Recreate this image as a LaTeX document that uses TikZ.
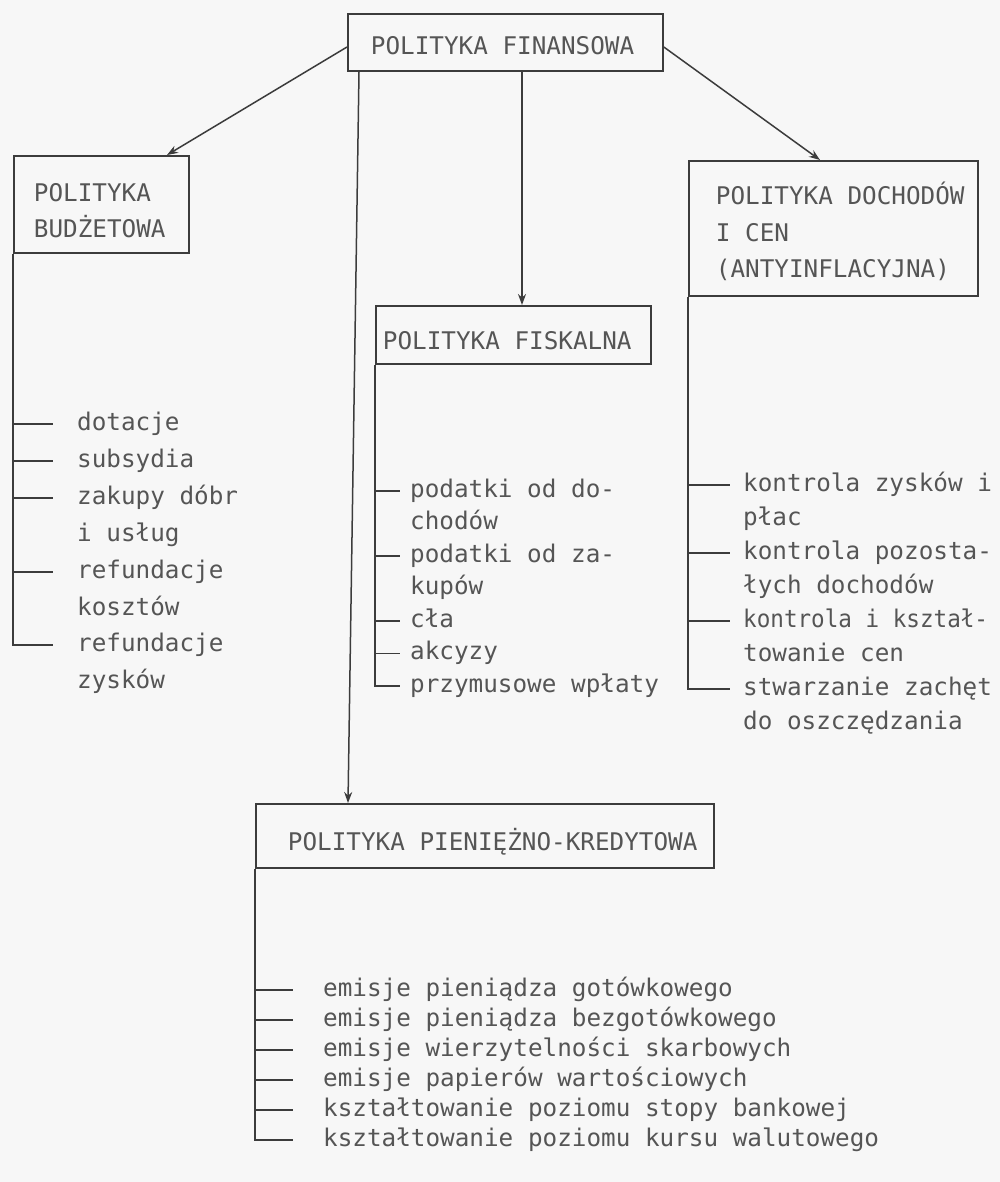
\documentclass[tikz,border=0pt]{standalone}
\usepackage{fontspec}
\newfontfamily\mono[WordSpace={1,0,0}]{DejaVu Sans Mono}
\newfontfamily\monocond[WordSpace={1,0,0},FakeStretch=0.93]{DejaVu Sans Mono}
\usetikzlibrary{arrows.meta}
\definecolor{ink}{HTML}{3C3C3C}
\definecolor{txt}{HTML}{555555}
\definecolor{paper}{HTML}{F7F7F7}
\newcommand\hdset[1]{\leftskip=#1\spaceskip=14.63pt\xspaceskip=14.63pt\relax}
\begin{document}
\begin{tikzpicture}[x=1pt,y=-1pt,
  box/.style={draw=ink, line width=1.8pt, inner sep=0pt, anchor=north west, align=left,
    font=\mono\fontsize{24.3}{36}\selectfont, text=txt},
  itm/.style={anchor=west, inner sep=0pt, text height=12pt, text depth=0pt,
    font=\mono\fontsize{24.3}{29}\selectfont, text=txt},
  conn/.style={draw=ink, line width=1.5pt},
  arr/.style={conn, -{Stealth[length=11pt,width=8pt]}}]
\useasboundingbox (0,0) rectangle (1000,1182);
\fill[paper] (0,0) rectangle (1000,1182);

% header boxes
\node[box, text width=315pt] (top) at (347,13)
  {\hdset{23pt}\rule{0pt}{40.9pt}POLITYKA FINANSOWA\rule[-16.1pt]{0pt}{16.1pt}\par};
\node[box, text width=175pt] (bud) at (13,155)
  {\hdset{20pt}\rule{0pt}{45.85pt}POLITYKA\\BUDŻETOWA\rule[-15.15pt]{0pt}{15.15pt}\par};
\node[box, text width=289pt, font=\mono\fontsize{24.3}{36.5}\selectfont] (doch) at (688,160)
  {\hdset{27pt}\rule{0pt}{43.9pt}POLITYKA DOCHODÓW\\I CEN\\(ANTYINFLACYJNA)\rule[-18.1pt]{0pt}{18.1pt}\par};
\node[box, text width=275pt] (fisk) at (375,305)
  {\hdset{7pt}\rule{0pt}{43.4pt}POLITYKA FISKALNA\rule[-14.6pt]{0pt}{14.6pt}\par};
\node[box, text width=458pt] (pk) at (255,803)
  {\hdset{32pt}\rule{0pt}{46.4pt}POLITYKA PIENIĘŻNO-KREDYTOWA\rule[-17.6pt]{0pt}{17.6pt}\par};

% arrows from the top box
\draw[arr] ([yshift=-34pt]top.north west) -- ([xshift=154pt]bud.north west);
\draw[arr] ([yshift=-34pt]top.north east) -- ([xshift=132pt]doch.north west);
\draw[arr] ([xshift=175pt]top.south west) -- ([xshift=147pt]fisk.north west);
\draw[arr] ([xshift=12pt]top.south west) -- ([xshift=93pt]pk.north west);

% budzetowa items
\node[itm] (b1)  at (77,424) {dotacje};
\node[itm] (b2)  at (77,461) {subsydia};
\node[itm] (b3)  at (77,498) {zakupy dóbr};
\node[itm] (b3b) at (77,535) {i usług};
\node[itm] (b4)  at (77,572) {refundacje};
\node[itm] (b4b) at (77,609) {kosztów};
\node[itm] (b5)  at (77,645) {refundacje};
\node[itm] (b5b) at (77,682) {zysków};
\draw[conn] (bud.south west) |- ([xshift=-24pt]b5.west);
\foreach \n in {b1,b2,b3,b4}
  \draw[conn] (bud.south west |- \n.west) -- ([xshift=-24pt]\n.west);

% fiskalna items
\node[itm] (f1)  at (410,491) {podatki od do-};
\node[itm] (f1b) at (410,523.5) {chodów};
\node[itm] (f2)  at (410,556) {podatki od za-};
\node[itm] (f2b) at (410,588.5) {kupów};
\node[itm] (f3)  at (410,621) {cła};
\node[itm] (f4)  at (410,653.5) {akcyzy};
\node[itm] (f5)  at (410,686) {przymusowe wpłaty};
\draw[conn] (fisk.south west) |- ([xshift=-10pt]f5.west);
\foreach \n in {f1,f2,f3,f4}
  \draw[conn] (fisk.south west |- \n.west) -- ([xshift=-10pt]\n.west);

% dochodow items
\node[itm] (d1)  at (743,485) {kontrola zysków i};
\node[itm] (d1b) at (743,519) {płac};
\node[itm] (d2)  at (743,553) {kontrola pozosta-};
\node[itm] (d2b) at (743,587) {łych dochodów};
\node[itm, font=\monocond\fontsize{24.3}{29}\selectfont] (d3)  at (743,621) {kontrola i kształ-};
\node[itm] (d3b) at (743,655) {towanie cen};
\node[itm] (d4)  at (743,689) {stwarzanie zachęt};
\node[itm] (d4b) at (743,723) {do oszczędzania};
\draw[conn] (doch.south west) |- ([xshift=-13pt]d4.west);
\foreach \n in {d1,d2,d3}
  \draw[conn] (doch.south west |- \n.west) -- ([xshift=-13pt]\n.west);

% pieniezno-kredytowa items
\node[itm] (p1) at (323,990)  {emisje pieniądza gotówkowego};
\node[itm] (p2) at (323,1020) {emisje pieniądza bezgotówkowego};
\node[itm] (p3) at (323,1050) {emisje wierzytelności skarbowych};
\node[itm] (p4) at (323,1080) {emisje papierów wartościowych};
\node[itm] (p5) at (323,1110) {kształtowanie poziomu stopy bankowej};
\node[itm] (p6) at (323,1140) {kształtowanie poziomu kursu walutowego};
\draw[conn] (pk.south west) |- ([xshift=-30pt]p6.west);
\foreach \n in {p1,p2,p3,p4,p5}
  \draw[conn] (pk.south west |- \n.west) -- ([xshift=-30pt]\n.west);
\end{tikzpicture}
\end{document}
